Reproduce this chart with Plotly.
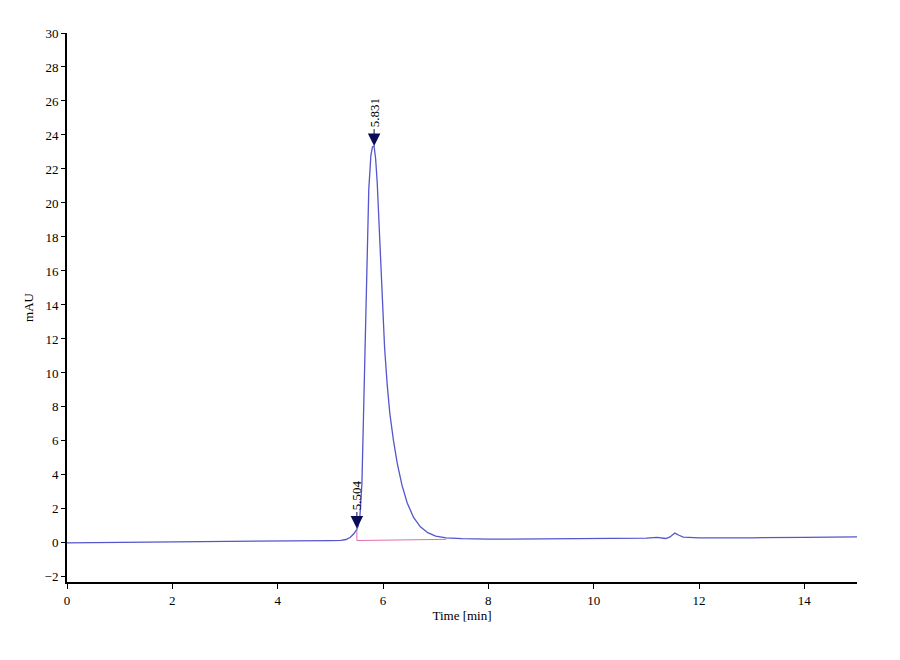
import plotly.graph_objects as go

# Chromatogram signal (time in min, absorbance in mAU)
time_min = [0, 1, 2, 3, 4, 4.5, 5.0, 5.2, 5.3, 5.38, 5.45, 5.504, 5.53, 5.56, 5.60,
            5.63, 5.66, 5.69, 5.73, 5.77, 5.80, 5.83, 5.86, 5.89, 5.92, 5.95, 5.99,
            6.03, 6.08, 6.13, 6.20, 6.27, 6.36, 6.46, 6.58, 6.71, 6.85, 7.0, 7.2,
            7.5, 8, 9, 10, 10.5, 11.0, 11.2, 11.3, 11.37, 11.45, 11.54, 11.62, 11.7,
            12.0, 12.5, 13, 14, 15]
signal_mau = [0.0, 0.02, 0.04, 0.07, 0.10, 0.12, 0.14, 0.15, 0.20, 0.33, 0.55, 0.80, 1.0, 1.5, 3.5,
              7.5, 12.0, 16.5, 20.8, 22.8, 23.3, 23.35, 22.6, 21.2, 19.0, 16.5, 14.0,
              11.5, 9.3, 7.6, 6.0, 4.7, 3.4, 2.35, 1.5, 0.95, 0.6, 0.4, 0.3,
              0.25, 0.22, 0.23, 0.26, 0.28, 0.28, 0.32, 0.29, 0.26, 0.35, 0.58, 0.45, 0.34,
              0.30, 0.28, 0.30, 0.33, 0.35]

# Integration baseline
base_time = [5.504, 5.504, 7.2]
base_mau = [0.80, 0.14, 0.21]

# Peak labels
peak_rt = [5.504, 5.831]
peak_top = [0.85, 23.35]
peak_labels = ["5.504", "5.831"]

font_serif = "Liberation Serif, Times New Roman, serif"

fig = go.Figure()
fig.add_trace(go.Scatter(x=base_time, y=base_mau, mode="lines",
                         line=dict(color="#e070b0", width=1), hoverinfo="skip"))
fig.add_trace(go.Scatter(x=time_min, y=signal_mau, mode="lines",
                         line=dict(color="#5555cc", width=1.3), hoverinfo="skip"))

for rt, top, lab in zip(peak_rt, peak_top, peak_labels):
    fig.add_annotation(x=rt, y=top, xref="x", yref="y", text=lab, textangle=-90,
                       showarrow=True, ax=0, ay=-33, arrowhead=2, arrowsize=2.5,
                       arrowwidth=1, arrowcolor="#0b0b55", standoff=0,
                       font=dict(family=font_serif, size=13, color="black"))

fig.update_layout(
    width=900, height=660,
    margin=dict(l=59, r=51, t=25, b=86),
    paper_bgcolor="white", plot_bgcolor="white",
    showlegend=False,
    font=dict(family=font_serif, size=13, color="black"),
)
fig.update_xaxes(range=[0, 15], tickvals=[0, 2, 4, 6, 8, 10, 12, 14],
                 ticks="outside", ticklen=5, tickwidth=1.2, tickcolor="black",
                 showline=True, linecolor="black", linewidth=2, showgrid=False,
                 zeroline=False, title=dict(text="Time [min]", standoff=0,
                                            font=dict(family=font_serif, size=13)))
fig.update_yaxes(range=[-2.3, 30], tickvals=list(range(-2, 31, 2)),
                 ticks="outside", ticklen=4, tickwidth=1.2, tickcolor="black",
                 showline=True, linecolor="black", linewidth=2, showgrid=False,
                 zeroline=False, title=dict(text="mAU", standoff=8,
                                            font=dict(family=font_serif, size=13)))

fig.write_html("out.html")
